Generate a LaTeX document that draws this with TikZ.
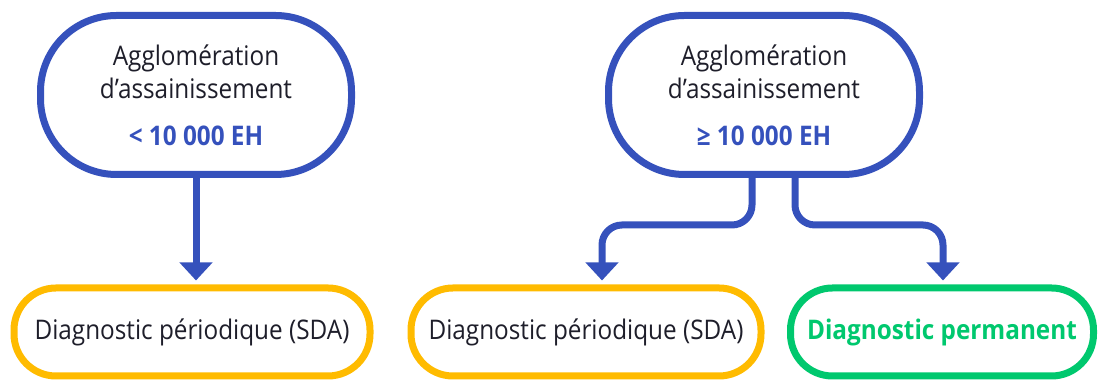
\documentclass[tikz,border=0pt]{standalone}
\usepackage{fontspec}
\setmainfont{Open Sans}[FakeStretch=0.9]
\usetikzlibrary{arrows.meta}
\definecolor{aggblue}{HTML}{3551BC}
\definecolor{sdayellow}{HTML}{FFBB00}
\definecolor{permgreen}{HTML}{00C86E}
\definecolor{txtdark}{HTML}{1E1E2A}
\tikzset{
  aggbox/.style={draw=aggblue, line width=3.5pt, rounded corners=38pt,
    minimum width=155.5pt, minimum height=79.5pt, align=center, text=txtdark},
  diagbox/.style={line width=3.5pt, rounded corners=21pt,
    minimum height=44pt, text=txtdark},
  link/.style={draw=aggblue, line width=3.5pt, rounded corners=10pt,
    -{Triangle[width=16pt,length=9pt]}, shorten >=2pt},
}
\begin{document}
\begin{tikzpicture}[x=0.5pt, y=-0.5pt, font=\fontsize{13.5}{16.5}\selectfont]
  \useasboundingbox (0,0) rectangle (1100,383);
  % top boxes
  \node[aggbox] (agg1) at (196,95) {Agglomération\\d’assainissement\\[7pt]{\bfseries\color{aggblue}< 10 000 EH}};
  \node[aggbox] (agg2) at (764,95) {Agglomération\\d’assainissement\\[7pt]{\bfseries\color{aggblue}≥ 10 000 EH}};
  % bottom boxes
  \node[diagbox, draw=sdayellow, minimum width=178pt] (sda1) at (192,332) {Diagnostic périodique (SDA)};
  \node[diagbox, draw=sdayellow, minimum width=175pt] (sda2) at (586,332) {Diagnostic périodique (SDA)};
  \node[diagbox, draw=permgreen, minimum width=151.5pt, text=permgreen, font=\fontsize{13.5}{16.5}\selectfont\bfseries] (perm) at (942,332) {Diagnostic permanent};
  % connectors
  \coordinate (split) at (0,225);
  \draw[link] (agg1.south) -- (agg1.south |- sda1.north);
  \draw[link] ([xshift=-6pt]agg2.south) -- ([xshift=-6pt]agg2.south |- split) -| ([xshift=8pt]sda2.north);
  \draw[link] ([xshift=15.5pt]agg2.south) -- ([xshift=15.5pt]agg2.south |- split) -| ([xshift=0.5pt]perm.north);
\end{tikzpicture}
\end{document}
